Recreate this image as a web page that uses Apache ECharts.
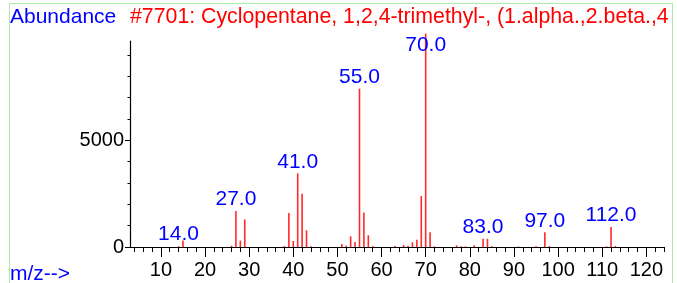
<!DOCTYPE html>
<html>
<head>
<meta charset="utf-8">
<script src="https://cdn.jsdelivr.net/npm/echarts@6/dist/echarts.min.js"></script>
<style>
  html, body { margin: 0; padding: 0; background: #fff; }
  #grafico { width: 677px; height: 283px; }
</style>
</head>
<body>
<div id="grafico"></div>
<script>
// Espectro de masas: m/z y abundancia
const mz = [14, 15, 26, 27, 28, 29, 38, 39, 40, 41, 42, 43, 44, 51, 52, 53, 54, 55, 56, 57, 58,
            63, 65, 66, 67, 68, 69, 70, 71, 72, 77, 78, 79, 81, 83, 84, 85, 91, 95, 97, 98, 111, 112, 113];
const abundancia = [40, 300, 60, 1690, 300, 1290, 50, 1590, 280, 3450, 2490, 780, 30, 140, 60, 500, 240, 7420, 1620, 550, 40,
                    50, 100, 50, 220, 340, 2390, 9999, 690, 30, 80, 40, 30, 80, 390, 380, 30, 20, 30, 690, 40, 30, 940, 50];
// Picos con etiqueta
const picosEtiquetados = [14, 27, 41, 55, 70, 83, 97, 112];

// Marcas de los ejes
const ticksX = [10, 20, 30, 40, 50, 60, 70, 80, 90, 100, 110, 120];
const ticksXMenores = [];
for (let v = 4; v <= 124; v += 2) ticksXMenores.push(v);
const ticksY = [0, 5000];
const ticksYMenores = [1000, 2000, 3000, 4000, 6000, 7000, 8000, 9000];

const titulo = '#7701: Cyclopentane, 1,2,4-trimethyl-, (1.alpha.,2.beta.,4';
const fuente = '"Liberation Sans", Arial, sans-serif';

const grafico = echarts.init(document.getElementById('grafico'));

const datos = mz.map((m, i) => {
    const item = { value: [m, abundancia[i]] };
    if (picosEtiquetados.includes(m)) {
        item.label = { show: true, position: m === 70 ? 'insideTop' : 'top' };
    }
    return item;
});

const ejeXBase = {
    type: 'value',
    min: 3,
    max: 124,
    position: 'bottom',
    offset: 0,
    splitLine: { show: false }
};
const ejeYBase = {
    type: 'value',
    min: 0,
    max: 9650,
    position: 'left',
    offset: 0,
    splitLine: { show: false }
};

const opciones = {
    backgroundColor: '#ffffff',
    animation: false,
    grid: { left: 130, right: 13, top: 41, bottom: 36 },
    graphic: [
        {
            type: 'rect',
            shape: { x: 9.5, y: 3.5, width: 663, height: 300 },
            style: { fill: 'none', stroke: '#a8eca8', lineWidth: 1 },
            silent: true
        },
        {
            type: 'text', left: 10, top: 7,
            style: { text: 'Abundance', fill: '#0000ff', font: '21px ' + fuente }
        },
        {
            type: 'text', left: 130, top: 7,
            style: { text: titulo, fill: '#ff0000', font: '21.3px ' + fuente }
        },
        {
            type: 'text', left: 10, top: 264,
            style: { text: 'm/z-->', fill: '#0000ff', font: '21px ' + fuente }
        }
    ],
    xAxis: [
        Object.assign({}, ejeXBase, {
            axisLine: { show: true, onZero: false, lineStyle: { color: '#000', width: 1.2 } },
            axisTick: { show: true, length: 5, customValues: ticksXMenores, lineStyle: { color: '#000' } },
            axisLabel: {
                customValues: ticksX, margin: 13,
                color: '#000', fontSize: 20, fontFamily: fuente
            }
        }),
        Object.assign({}, ejeXBase, {
            axisLine: { show: false, onZero: false },
            axisTick: { show: true, length: 10, customValues: ticksX, lineStyle: { color: '#000' } },
            axisLabel: { show: false }
        })
    ],
    yAxis: [
        Object.assign({}, ejeYBase, {
            axisLine: { show: true, onZero: false, lineStyle: { color: '#000', width: 1.2 } },
            axisTick: { show: true, length: 5, customValues: ticksY, lineStyle: { color: '#000' } },
            axisLabel: {
                customValues: ticksY, margin: 6,
                color: '#000', fontSize: 20, fontFamily: fuente,
                formatter: v => String(v)
            }
        }),
        Object.assign({}, ejeYBase, {
            axisLine: { show: false, onZero: false },
            axisTick: { show: true, length: 2.5, customValues: ticksYMenores, lineStyle: { color: '#000' } },
            axisLabel: { show: false }
        })
    ],
    series: [{
        type: 'bar',
        xAxisIndex: 0,
        yAxisIndex: 0,
        barWidth: 1.6,
        clip: false,
        itemStyle: { color: '#ff2a2a' },
        label: {
            show: false,
            distance: 1,
            color: '#0000ff',
            fontSize: 21,
            fontFamily: fuente,
            formatter: p => p.value[0].toFixed(1)
        },
        data: datos
    }]
};

grafico.setOption(opciones);
</script>
</body>
</html>
